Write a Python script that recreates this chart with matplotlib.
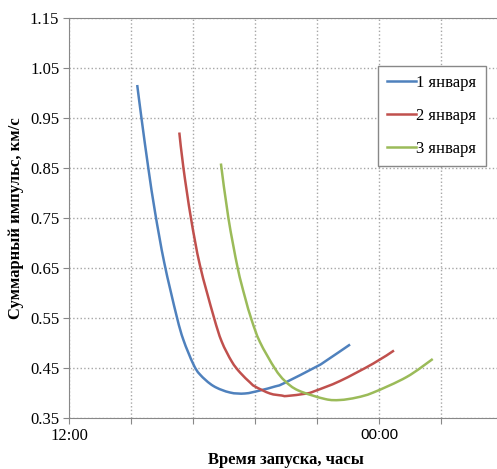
"""суммарный импульс в зависимости от времени запуска
"""

import numpy as np
from matplotlib import pyplot
from matplotlib.lines import Line2D
from matplotlib.patches import PathPatch
from matplotlib.path import Path

# время запуска, часы после 12:00
hours_jan1 = [2.64, 2.81, 3.07, 3.33, 3.69, 4.17, 4.43, 4.81, 5.07, 5.59, 6.23, 6.81,
              7.39, 7.97, 8.30, 9.59, 9.91, 10.88]
impulse_jan1 = [1.016, 0.948, 0.85, 0.762, 0.66, 0.553, 0.506, 0.458, 0.437, 0.414, 0.401, 0.399,
                0.405, 0.413, 0.419, 0.453, 0.463, 0.497]

hours_jan2 = [4.27, 4.43, 4.72, 5.07, 5.60, 5.91, 6.30, 6.62, 7.01, 7.20, 7.78, 8.23,
              8.43, 9.20, 9.52, 10.49, 11.78, 12.58]
impulse_jan2 = [0.921, 0.85, 0.75, 0.655, 0.553, 0.503, 0.463, 0.441, 0.421, 0.413, 0.399, 0.395,
                0.394, 0.399, 0.404, 0.424, 0.459, 0.485]

hours_jan3 = [5.88, 6.17, 6.53, 6.81, 7.07, 7.39, 7.97, 8.36, 8.88, 9.91, 10.49, 11.14,
              11.78, 13.07, 14.08]
impulse_jan3 = [0.859, 0.75, 0.65, 0.592, 0.546, 0.502, 0.449, 0.424, 0.405, 0.388, 0.386, 0.391,
                0.401, 0.432, 0.468]

labels = ['1 января', '2 января', '3 января']
colors = ['#4F81BD', '#C0504D', '#9BBB59']

x_ticks = [0, 2.4, 4.8, 7.2, 9.6, 12.0, 14.4]
x_tick_labels = ['12:00', '', '', '', '', '00:00', '']
y_ticks = [0.35, 0.45, 0.55, 0.65, 0.75, 0.85, 0.95, 1.05, 1.15]

serif = 'Liberation Serif'


def smooth_path(x, y):
    """сглаженная линия как в Excel (кривые Безье через точки)
    """
    pts = np.column_stack([x, y])
    verts = [pts[0]]
    codes = [Path.MOVETO]
    n = len(pts)
    for i in range(n - 1):
        p0 = pts[max(i - 1, 0)]
        p1 = pts[i]
        p2 = pts[i + 1]
        p3 = pts[min(i + 2, n - 1)]
        verts += [p1 + (p2 - p0) / 6, p2 - (p3 - p1) / 6, p2]
        codes += [Path.CURVE4] * 3
    return Path(verts, codes)


fig = pyplot.figure(figsize=(4.97, 4.69), dpi=100)
ax = fig.add_axes([69 / 497, 51 / 469, 434 / 497, 400 / 469])

series = (
    (hours_jan1, impulse_jan1),
    (hours_jan2, impulse_jan2),
    (hours_jan3, impulse_jan3),
)
handles = []
for (x, y), label, color in zip(series, labels, colors):
    ax.add_patch(PathPatch(smooth_path(x, y), facecolor='none', edgecolor=color,
                           linewidth=1.8, capstyle='butt', zorder=3))
    handles.append(Line2D([], [], color=color, linewidth=1.8, label=label))

ax.set_xlim(0, 16.8)
ax.set_ylim(0.35, 1.15)
ax.set_xticks(x_ticks)
ax.set_xticklabels(x_tick_labels)
ax.set_yticks(y_ticks)
ax.set_yticklabels([f'{v:.2f}' for v in y_ticks], family=serif, fontsize=12)
tick_labels = ax.get_xticklabels()
tick_labels[0].set_family(serif)
tick_labels[0].set_fontsize(12)
tick_labels[5].set_family('Liberation Sans')
tick_labels[5].set_fontsize(11)

ax.grid(True, color='#a6a6a6', linestyle=':', linewidth=1.0)
ax.tick_params(axis='both', direction='out', length=4, color='#888888', pad=3)
for side in ('left', 'bottom', 'top'):
    ax.spines[side].set_color('#888888')
ax.spines['right'].set_visible(False)

ax.set_ylabel('Суммарный импульс, км/с', family=serif, fontsize=12, fontweight='bold', labelpad=4)
ax.set_xlabel('Время запуска, часы', family=serif, fontsize=12, fontweight='bold')
ax.xaxis.set_label_coords(0.5, -0.105)
ax.xaxis.label.set_va('center')

legend = ax.legend(handles=handles, loc='upper left', bbox_to_anchor=(0.712, 0.88),
                   borderaxespad=0, prop={'family': serif, 'size': 12}, fancybox=False,
                   framealpha=1, edgecolor='#888888', labelspacing=1.0, handlelength=1.7,
                   handletextpad=0.05, borderpad=0.55)
legend.get_frame().set_linewidth(1.0)

fig.savefig('out.png', dpi=100)
